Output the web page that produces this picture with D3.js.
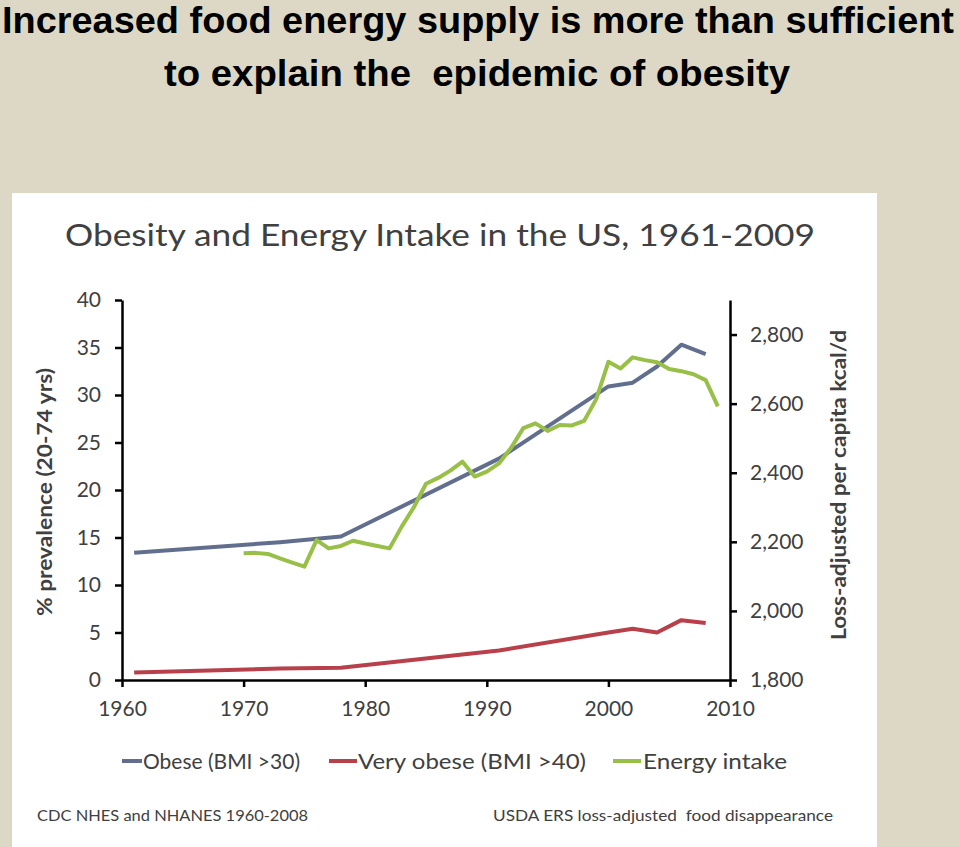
<!DOCTYPE html>
<html><head><meta charset="utf-8">
<script src="https://cdn.jsdelivr.net/npm/d3@7"></script>
<style>
html,body{margin:0;padding:0;background:#ddd8c5;}
svg{display:block;}
</style></head>
<body>
<svg id="c" width="960" height="847"></svg>
<script>
// ---- data ----
const xTicks = [1960, 1970, 1980, 1990, 2000, 2010];
const leftTicks = [0, 5, 10, 15, 20, 25, 30, 35, 40];
const rightTicks = [1800, 2000, 2200, 2400, 2600, 2800];
const surveyYears = [1961, 1973, 1978, 1991, 2000, 2002, 2004, 2006, 2008];
const obese = [13.4, 14.5, 15.1, 23.3, 30.9, 31.3, 33.0, 35.3, 34.3];
const veryObese = [0.8, 1.2, 1.3, 3.1, 5.0, 5.4, 5.0, 6.3, 6.0];
const energyYears = [1970,1971,1972,1973,1974,1975,1976,1977,1978,1979,1980,1981,1982,1983,1984,1985,1986,1987,1988,1989,1990,1991,1992,1993,1994,1995,1996,1997,1998,1999,2000,2001,2002,2003,2004,2005,2006,2007,2008,2009];
const energy = [2167,2168,2165,2152,2140,2128,2205,2181,2188,2203,2195,2188,2181,2244,2300,2368,2385,2406,2432,2389,2403,2427,2472,2529,2543,2521,2538,2537,2550,2613,2721,2702,2734,2726,2720,2700,2694,2685,2668,2592];
const seriesNames = ["Obese (BMI >30)", "Very obese (BMI >40)", "Energy intake"];

const svg = d3.select("#c");
const bg = "#ddd8c5";
const textCol = "#404040";
const colObese = "#626e8e", colVery = "#b8404a", colEnergy = "#98bf48";

svg.append("rect").attr("width",960).attr("height",847).attr("fill",bg);

// Slide title
const tFont = "'Liberation Sans Narrow','Arial Narrow','Liberation Sans',sans-serif";
svg.append("text").attr("x",478).attr("y",33).attr("text-anchor","middle")
  .attr("font-family",tFont).attr("font-weight","bold").attr("font-size",37)
  .attr("textLength",952).attr("lengthAdjust","spacingAndGlyphs").attr("fill","#000")
  .text("Increased food energy supply is more than sufficient");
svg.append("text").attr("x",477).attr("y",86).attr("text-anchor","middle")
  .attr("font-family",tFont).attr("font-weight","bold").attr("font-size",37)
  .attr("textLength",626).attr("lengthAdjust","spacingAndGlyphs").attr("fill","#000")
  .style("white-space","pre")
  .text("to explain the  epidemic of obesity");

// White chart panel
svg.append("rect").attr("x",12).attr("y",193).attr("width",865).attr("height",654).attr("fill","#fff");

const font = "Lato, 'Open Sans', sans-serif";
svg.append("text").attr("x",65).attr("y",246).attr("font-family",font).attr("font-size",31)
  .attr("fill",textCol).attr("textLength",750).attr("lengthAdjust","spacingAndGlyphs")
  .text("Obesity and Energy Intake in the US, 1961-2009");

// scales
const x = d3.scaleLinear().domain([1960, 2010]).range([122, 730]);
const yL = d3.scaleLinear().domain([0, 40]).range([680, 300]);
const yR = d3.scaleLinear().domain([1800, 2900]).range([680, 300]);

function styleAxis(g){
  g.select(".domain").attr("stroke","#000").attr("stroke-width",2.5);
  g.selectAll(".tick line").attr("stroke","#000").attr("stroke-width",2.5);
  g.selectAll(".tick text").attr("fill",textCol).attr("font-family",font).attr("font-size",21);
}

const gL = svg.append("g").attr("transform","translate(122,0)")
  .call(d3.axisLeft(yL).tickValues(leftTicks).tickSize(7).tickSizeOuter(0).tickPadding(14));
styleAxis(gL);
const gR = svg.append("g").attr("transform","translate(730,0)")
  .call(d3.axisRight(yR).tickValues(rightTicks).tickSize(7).tickSizeOuter(0).tickPadding(13).tickFormat(d3.format(",")));
styleAxis(gR);
const gB = svg.append("g").attr("transform","translate(0,680)")
  .call(d3.axisBottom(x).tickValues(xTicks).tickSize(7).tickSizeOuter(0).tickPadding(14).tickFormat(d3.format("d")));
styleAxis(gB);

// axis titles
svg.append("text").attr("transform","translate(52,492) rotate(-90)").attr("text-anchor","middle")
  .attr("font-family",font).attr("font-weight","bold").attr("font-size",20).attr("fill",textCol)
  .attr("textLength",248).attr("lengthAdjust","spacingAndGlyphs")
  .text("% prevalence (20-74 yrs)");
svg.append("text").attr("transform","translate(846,485) rotate(-90)").attr("text-anchor","middle")
  .attr("font-family",font).attr("font-weight","bold").attr("font-size",20).attr("fill",textCol)
  .attr("textLength",310).attr("lengthAdjust","spacingAndGlyphs")
  .text("Loss-adjusted per capita kcal/d");

// lines
const lineL = d3.line().x(d => x(d[0])).y(d => yL(d[1]));
const lineR = d3.line().x(d => x(d[0])).y(d => yR(d[1]));
svg.append("path").datum(surveyYears.map((y,i)=>[y,veryObese[i]])).attr("d",lineL)
  .attr("fill","none").attr("stroke",colVery).attr("stroke-width",4).attr("stroke-linejoin","round");
svg.append("path").datum(surveyYears.map((y,i)=>[y,obese[i]])).attr("d",lineL)
  .attr("fill","none").attr("stroke",colObese).attr("stroke-width",4).attr("stroke-linejoin","round");
svg.append("path").datum(energyYears.map((y,i)=>[y,energy[i]])).attr("d",lineR)
  .attr("fill","none").attr("stroke",colEnergy).attr("stroke-width",4).attr("stroke-linejoin","round");

// legend
const legend = [
  {name: seriesNames[0], col: colObese, x0: 122, x1: 142, tx: 143, tl: 157},
  {name: seriesNames[1], col: colVery, x0: 329, x1: 357, tx: 358, tl: 228},
  {name: seriesNames[2], col: colEnergy, x0: 613, x1: 641, tx: 643, tl: 144}
];
legend.forEach(l => {
  svg.append("line").attr("x1",l.x0).attr("x2",l.x1).attr("y1",761).attr("y2",761)
    .attr("stroke",l.col).attr("stroke-width",4);
  svg.append("text").attr("x",l.tx).attr("y",769).attr("font-family",font).attr("font-size",22)
    .attr("fill",textCol).attr("textLength",l.tl).attr("lengthAdjust","spacingAndGlyphs").text(l.name);
});

// sources
svg.append("text").attr("x",37).attr("y",821).attr("font-family",font).attr("font-size",16)
  .attr("fill",textCol).attr("textLength",271).attr("lengthAdjust","spacingAndGlyphs")
  .text("CDC NHES and NHANES 1960-2008");
svg.append("text").attr("x",493).attr("y",821).attr("font-family",font).attr("font-size",16)
  .attr("fill",textCol).attr("textLength",340).attr("lengthAdjust","spacingAndGlyphs")
  .style("white-space","pre")
  .text("USDA ERS loss-adjusted  food disappearance");
</script>
</body></html>
